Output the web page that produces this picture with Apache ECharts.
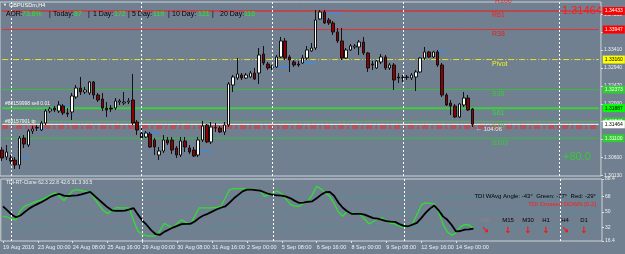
<!DOCTYPE html>
<html><head><meta charset="utf-8">
<script src="https://cdn.jsdelivr.net/npm/echarts@6/dist/echarts.min.js"></script>
<style>html,body{margin:0;padding:0;background:#708090;}#c{width:625px;height:254px;}</style>
</head><body><div id="c"></div>
<script>
// ---- data ----
const barOpen = [1.30791,1.30608,1.30581,1.30529,1.30398,1.31105,1.30922,1.31289,1.31367,1.31315,1.31498,1.31813,1.31891,1.31813,1.31944,1.31760,1.31787,1.32180,1.32415,1.32311,1.32284,1.32573,1.32232,1.32127,1.31891,1.31891,1.31891,1.32049,1.32022,1.32049,1.32101,1.31525,1.31236,1.31132,1.31210,1.31053,1.30660,1.30765,1.31053,1.31053,1.30843,1.30660,1.31027,1.30843,1.30791,1.30660,1.31053,1.31446,1.31001,1.31367,1.31367,1.31263,1.31446,1.32494,1.32677,1.32756,1.32677,1.32704,1.32808,1.32808,1.33306,1.33044,1.32966,1.32966,1.33228,1.33647,1.33228,1.33097,1.33044,1.33070,1.33201,1.33385,1.33463,1.34223,1.34407,1.34197,1.34118,1.33883,1.33647,1.33201,1.33411,1.33490,1.33490,1.33621,1.33332,1.33044,1.32939,1.33097,1.33228,1.32939,1.33018,1.32704,1.32677,1.32704,1.32677,1.32704,1.32835,1.33201,1.33359,1.33228,1.33359,1.33018,1.32232,1.32022,1.31944,1.31656,1.31970,1.32153,1.31865];
const barClose = [1.30581,1.30739,1.30503,1.30398,1.31105,1.30948,1.31289,1.31341,1.31381,1.31498,1.31813,1.31865,1.31839,1.31970,1.31760,1.31734,1.32206,1.32415,1.32311,1.32363,1.32573,1.32232,1.32101,1.31891,1.31839,1.31865,1.32075,1.32075,1.32049,1.32075,1.31498,1.31315,1.31105,1.31236,1.30870,1.30870,1.30765,1.31053,1.30974,1.30791,1.30660,1.31027,1.30870,1.30739,1.30634,1.31053,1.31420,1.31001,1.31394,1.31381,1.31263,1.31446,1.32520,1.32704,1.32782,1.32677,1.32756,1.32808,1.32651,1.33280,1.33070,1.32939,1.32958,1.33228,1.33647,1.33201,1.33149,1.33018,1.33018,1.33201,1.33411,1.33463,1.34197,1.34407,1.34118,1.34118,1.33883,1.33647,1.33201,1.33411,1.33516,1.33516,1.33621,1.33332,1.32939,1.33018,1.33123,1.33228,1.32939,1.33018,1.32625,1.32677,1.32691,1.32691,1.32756,1.32835,1.33201,1.33359,1.33228,1.33359,1.33018,1.32232,1.31970,1.31944,1.31656,1.31996,1.32153,1.31839,1.31464];
const barLow = [1.30503,1.30529,1.30424,1.30293,1.30293,1.30843,1.30870,1.31210,1.31289,1.31289,1.31446,1.31760,1.31787,1.31760,1.31708,1.31656,1.31577,1.32127,1.32232,1.32258,1.32232,1.32127,1.32049,1.31813,1.31656,1.31787,1.31839,1.31970,1.31970,1.31996,1.31446,1.31184,1.31079,1.31105,1.30843,1.30660,1.30529,1.30712,1.30922,1.30686,1.30581,1.30608,1.30739,1.30686,1.30608,1.30608,1.31001,1.30974,1.30948,1.31263,1.31236,1.31184,1.31394,1.32311,1.32625,1.32625,1.32651,1.32677,1.32625,1.32520,1.33018,1.32887,1.32887,1.32939,1.33201,1.33149,1.32835,1.32966,1.32966,1.33044,1.33149,1.33359,1.33411,1.34197,1.34092,1.34066,1.33804,1.33594,1.33149,1.33175,1.33385,1.33437,1.33280,1.33280,1.32835,1.32887,1.32913,1.33044,1.32887,1.32887,1.32363,1.32546,1.32573,1.32625,1.32625,1.32337,1.32808,1.33149,1.33201,1.33201,1.32966,1.32180,1.31944,1.31708,1.31629,1.31629,1.31918,1.31813,1.31394];
const barHigh = [1.30870,1.30922,1.30660,1.30608,1.31158,1.31184,1.31341,1.31420,1.31446,1.31551,1.31865,1.31918,1.31944,1.32075,1.31996,1.31891,1.32284,1.32494,1.32704,1.32442,1.32599,1.32599,1.32284,1.32284,1.32049,1.31970,1.32153,1.32127,1.32311,1.32153,1.32782,1.31577,1.31394,1.31289,1.31263,1.31105,1.30870,1.31184,1.31132,1.31132,1.30896,1.31132,1.31132,1.30922,1.30870,1.31132,1.31551,1.31472,1.31525,1.31498,1.31420,1.31525,1.32573,1.32756,1.33201,1.32808,1.32808,1.32861,1.32939,1.33463,1.33516,1.33097,1.33018,1.33280,1.33752,1.33725,1.33280,1.33149,1.33123,1.33280,1.33516,1.33594,1.34459,1.34459,1.34459,1.34249,1.34171,1.33987,1.33987,1.33463,1.33568,1.33568,1.33673,1.33752,1.33359,1.33123,1.33149,1.33306,1.33280,1.33070,1.33070,1.32808,1.32756,1.32756,1.32808,1.32887,1.33228,1.33490,1.33385,1.33385,1.33411,1.33070,1.32284,1.32101,1.31996,1.32022,1.32311,1.32232,1.31891];
const tdiBlack = [56.7,52,47,44,46,50,54,57,59.5,62,65,68,70,71,69,68.5,69,69.5,70.5,72,73.4,69,64.5,60,55.5,52,51.5,51.5,51.7,53,54.5,47,40,35,29,24.5,23.5,27,29.5,32,34,36,36.3,36.3,39,43,46,48,50.5,53,55,56.5,61,66,70,74,76,76,75.5,75,73,71,70,69.5,69,68,66,63,60.6,61,62,62.5,66,70,73,73.4,69,61,55,51,48,48,47.9,47,45,43,42.4,41,39.5,39,38.6,36,34,33.5,35.5,37.4,43,49,54,57.5,52,45,41,35,27.5,28,29.5,30,30.8];
const tdiGreen = [45,44,42,41,52,57,59,61,63,64.5,67,70,72.3,68,63.5,69,75,76,75,74,73.4,66,58.7,52,48,52,55,54.8,54.8,54.5,40,27.7,24,22.5,22,22,28,37,34,31.6,37,41,38,35.4,45,54.8,54.8,54.8,54.8,55.5,56.7,66,76,77.2,77.2,77.2,77,76.5,76,75,68.3,70,72.5,74.5,71,65,59,57,56.7,60,63,70,79.9,77,72,68.3,60,50,45.1,50.9,49,48,47,42,36.3,39,42,43.2,40,37,36.3,34,32.3,34,36.3,47,58,60.6,60,59.4,50,36,27,23,26,33,35.4,35,30.8];
const timeLabels = ['19 Aug 2016','23 Aug 00:00','24 Aug 08:00','25 Aug 16:00','29 Aug 00:00','30 Aug 08:00','31 Aug 16:00','2 Sep 00:00','5 Sep 08:00','6 Sep 16:00','8 Sep 00:00','9 Sep 08:00','12 Sep 16:00','14 Sep 00:00'];
const priceTicks = [1.30130,1.30600,1.31070,1.31540,1.32000,1.32470,1.32940,1.33410,1.33880,1.34350];
const tdiTicks = [16.4,32,50,68,88.4];
const tdiLevels = [32,50,68];
const fibNames = ['R61','R38','Pivot','S38','S61','S78','S100'];
const fibValues = [1.34433,1.33947,1.33160,1.32373,1.31887,1.31541,1.31100];
const bidPrice = 1.31464;
const orderLevels = [1.31420,1.31367];
const weekStartBars = [2,32,62,92,128];
// short blue support/resistance stubs: [first bar, last bar, price]
const stubFrom  = [4, 8, 14, 32, 45, 63, 69, 74, 100];
const stubTo    = [6, 10, 16, 36, 48, 66, 72, 78, 102];
const stubPrice = [1.30581, 1.31341, 1.31970, 1.31244, 1.30765, 1.32973, 1.33063, 1.34388, 1.33366];
const adrParts = [['ADR:','k'],['73.6%','g'],['|','k'],['Today:','k'],['87','g'],['|','k'],['1 Day:','k'],['172','g'],['|','k'],['5 Day:','k'],['119','g'],['|','k'],['10 Day:','k'],['121','g'],['|','k'],['20 Day:','k'],['116','g']];
const tfNames = ['M5','M15','M30','H1','H4','D1'];
const tfArrows = ['↘','↓','↓','↓','↘','↓'];

// ---- layout / style ----
const SLOTS = 138;
const cats = Array.from({length: SLOTS}, (_, i) => String(i));
const FONT = 'Liberation Sans, Arial, sans-serif';
const fibColors = ['#ff1a1a','#e02020','#f0f020','#3cc83c','#3cd83c','#66b066','#3cc83c'];
const fibBoxBg = ['#ff0000','#ff0000','#ffff00','#32cd32','#00ff00','#32cd32','#32cd32'];
const fibBoxFg = ['#ffffff','#ffffff','#000000','#ffffff','#000000','#ffffff','#ffffff'];
const fibLine = [
  {color:'#ff1010', width:1, type:'solid'},
  {color:'#e83030', width:1, type:'solid'},
  {color:'#e8e820', width:1, type:[6,2,1,2]},
  {color:'#38c038', width:1, type:'solid'},
  {color:'#3cd03c', width:2, type:'solid'},
  {color:'#5fb05f', width:1, type:'solid'},
  {color:'#38c038', width:1, type:'solid'}
];

const candleData = barOpen.map((o, i) => [o, barClose[i], barLow[i], barHigh[i]]);
const flat = v => cats.map(() => v);

function levelSeries(v, ls, box, xi, yi) {
  return {type:'line', xAxisIndex:xi, yAxisIndex:yi, data: flat(v), symbol:'none', silent:true, z:1,
    lineStyle: ls,
    endLabel: box ? {show:true, formatter: v.toFixed(5), color: box.fg, backgroundColor: box.bg,
      fontSize: 5, fontFamily: FONT, padding: [2,2,1,2], distance: 4} : {show:false}};
}

const series = [];
fibValues.forEach((v, i) => series.push(levelSeries(v, fibLine[i], {fg: fibBoxFg[i], bg: fibBoxBg[i]}, 0, 0)));
orderLevels.forEach(v => series.push(levelSeries(v, {color:'#ff2020', width:1, type:[6,3,2,3]}, null, 0, 0)));
series.push(levelSeries(bidPrice, {color:'#ffffff', width:1}, {fg:'#000000', bg:'#ffffff'}, 0, 0));
tdiLevels.forEach(v => series.push(levelSeries(v, {color:'#3f9a9a', width:1, type:[3,3]}, null, 1, 1)));

// blue stubs: one line series with gaps between the stubs
const stubData = cats.map(() => null);
stubFrom.forEach((f, k) => { for (let i = f; i <= stubTo[k]; i++) stubData[i] = stubPrice[k]; });
series.push({type:'line', xAxisIndex:0, yAxisIndex:0, data: stubData, symbol:'none', silent:true, z:2, connectNulls:false,
  lineStyle:{color:'#2f8fff', width:1}});

const vLines = weekStartBars.map(b => ({xAxis: b}));
series.push({type:'candlestick', xAxisIndex:0, yAxisIndex:0, data: candleData, barWidth: 3, z:3,
  itemStyle:{color:'#ffffff', color0:'#8b0000', borderColor:'#111111', borderColor0:'#111111', borderWidth:1},
  markLine:{silent:true, symbol:['none','none'], label:{show:false}, lineStyle:{color:'#ffffff', width:1, type:[2,2]}, data: vLines}});
series.push({type:'line', xAxisIndex:1, yAxisIndex:1, data: tdiGreen, symbol:'none', z:3, lineStyle:{color:'#33dd33', width:1.3},
  markLine:{silent:true, symbol:['none','none'], label:{show:false}, lineStyle:{color:'#ffffff', width:1, type:[2,2]}, data: vLines}});
series.push({type:'line', xAxisIndex:1, yAxisIndex:1, data: tdiBlack, symbol:'none', z:4, lineStyle:{color:'#000000', width:1.8}});

const axisLabelStyle = {color:'#f0f0f0', fontSize: 5, fontFamily: FONT};
const showTime = (i) => i % 8 === 0 && i / 8 < timeLabels.length;

const option = {
  animation: false,
  backgroundColor: '#708090',
  grid: [
    {left: 0, top: 2, width: 602, height: 174, show: true, borderColor: '#d0d4d8', borderWidth: 1},
    {left: 0, top: 179, width: 602, height: 62, show: true, borderColor: '#d0d4d8', borderWidth: 1}
  ],
  xAxis: [
    {type:'category', gridIndex:0, data: cats, boundaryGap: true, axisLine:{show:false}, axisTick:{show:false}, axisLabel:{show:false}, splitLine:{show:false}},
    {type:'category', gridIndex:1, data: cats, boundaryGap: true, axisLine:{show:false},
      axisTick:{show:true, alignWithLabel:true, length:2, lineStyle:{color:'#e0e0e0'}, interval: showTime},
      axisLabel:{show:true, ...axisLabelStyle, fontSize: 5.5, align:'left', margin: 3, interval: showTime,
        formatter: (val, i) => timeLabels[i / 8] || ''},
      splitLine:{show:false}}
  ],
  yAxis: [
    {type:'value', gridIndex:0, position:'right', min: 1.30110, max: 1.34668,
      axisLine:{show:false}, splitLine:{show:false},
      axisTick:{show:true, length:2, lineStyle:{color:'#e0e0e0'}, customValues: priceTicks},
      axisLabel:{show:true, ...axisLabelStyle, margin: 3, customValues: priceTicks, formatter: v => v.toFixed(5)}},
    {type:'value', gridIndex:1, position:'right', min: 16.4, max: 88.4,
      axisLine:{show:false}, splitLine:{show:false},
      axisTick:{show:true, length:2, lineStyle:{color:'#e0e0e0'}, customValues: tdiTicks},
      axisLabel:{show:true, ...axisLabelStyle, margin: 3, customValues: tdiTicks, formatter: v => String(v)}}
  ],
  series
};

const chart = echarts.init(document.getElementById('c'), null, {renderer:'canvas', width:625, height:254});
chart.setOption(option);

// ---- texts ----
const g = [];
function txt(x, y, s, color, size, align) {
  g.push({type:'text', x, y, silent:true, z: 10,
    style:{text:s, fill:color, font: size + 'px ' + FONT, textAlign: align || 'left', textVerticalAlign:'middle'}});
}
txt(3, 5, '▼', '#ffffff', 4);
txt(9, 5, 'GBPUSDm,H4', '#ffffff', 5.5);
const adrX = [6,22,49,53,74,88,93,114,128,132,153,168,172,198,212,220,244];
adrParts.forEach((p, i) => txt(adrX[i], 14, p[0], p[1] === 'g' ? '#22ee22' : '#000000', 7));
fibNames.forEach((n, i) => {
  const y = chart.convertToPixel({yAxisIndex: 0}, fibValues[i]);
  txt(492, y + 4.5, n, fibColors[i], 7);
});
txt(495, 1.5, 'R100', '#ff1a1a', 7);
txt(562, 10.5, '1.31464', '#ff1a1a', 11);
txt(563, 157, '+80.0', '#33cc33', 11);
const bidY = chart.convertToPixel({yAxisIndex: 0}, bidPrice);
txt(476, bidY + 5, '← 104:06', '#e8e8e8', 6);
txt(5, 104, '#88159998 sell 0.01', '#f4f4f4', 5);
txt(5, 122, '#88157901 tp', '#f4f4f4', 5);
txt(6, 182.5, 'TDI-RT-Clone 62.3 22.8 42.6 31.3 30.5', '#f0f0f0', 5);
txt(596, 196.5, 'TDI WAvg Angle: -43°  Green: -77°  Red: -29°', '#000000', 6, 'right');
txt(596, 204.5, 'TDI Crossed DOWN [0.2]', '#ff1a1a', 6, 'right');
const tfX = [485, 508, 528, 546, 565, 584];
tfNames.forEach((n, i) => {
  txt(tfX[i], 220.5, n, i === 0 ? '#888888' : '#000000', 6, 'center');
  g.push({type:'text', x: tfX[i], y: 231, silent:true, z: 10, style:{text:tfArrows[i], fill:'#ff1010', font:'bold 9px DejaVu Sans', textAlign:'center', textVerticalAlign:'middle'}});
});
chart.setOption({graphic: g});
</script></body></html>
